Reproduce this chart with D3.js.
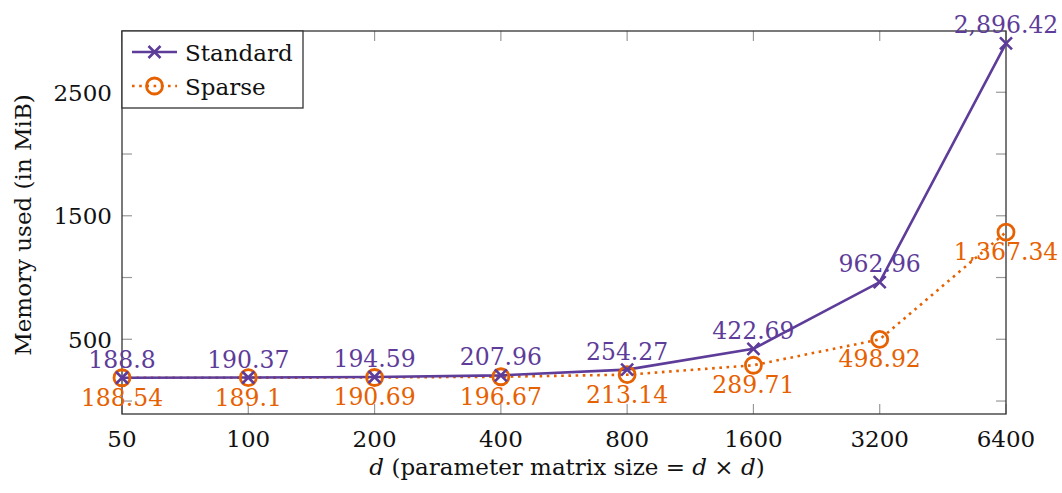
<!DOCTYPE html>
<html>
<head>
<meta charset="utf-8">
<script src="https://cdn.jsdelivr.net/npm/d3@7"></script>
<style>
  body { margin: 0; background: #fff; }
  text { font-family: "DejaVu Serif", serif; }
</style>
</head>
<body>
<script>
const sizes = ["50", "100", "200", "400", "800", "1600", "3200", "6400"];
const standard = [188.8, 190.37, 194.59, 207.96, 254.27, 422.69, 962.96, 2896.42];
const sparse = [188.54, 189.1, 190.69, 196.67, 213.14, 289.71, 498.92, 1367.34];
const yTicks = [0, 500, 1000, 1500, 2000, 2500, 3000];
const yTickLabels = [500, 1500, 2500];

const purple = "#5e3c99";
const orange = "#e66101";

const W = 1062, H = 493;
const margin = { left: 122, right: 56, top: 31, bottom: 79 };
const width = W - margin.left - margin.right;
const height = H - margin.top - margin.bottom;

const svg = d3.select("body").append("svg")
  .attr("width", W)
  .attr("height", H);

const g = svg.append("g").attr("transform", `translate(${margin.left},${margin.top})`);

const x = d3.scalePoint().domain(sizes).range([0, width]).padding(0);
const y = d3.scaleLinear().domain([-105, 2996]).range([height, 0]);

// ticks (inward, both sides)
const tickLen = 10;
const ticks = g.append("g").attr("stroke", "#999").attr("stroke-width", 1.2);
for (const s of sizes) {
  ticks.append("line").attr("x1", x(s)).attr("x2", x(s)).attr("y1", height).attr("y2", height - tickLen);
  ticks.append("line").attr("x1", x(s)).attr("x2", x(s)).attr("y1", 0).attr("y2", tickLen);
}
for (const v of yTicks) {
  if (y(v) < 0 || y(v) > height) continue;
  ticks.append("line").attr("x1", 0).attr("x2", tickLen).attr("y1", y(v)).attr("y2", y(v));
  ticks.append("line").attr("x1", width).attr("x2", width - tickLen).attr("y1", y(v)).attr("y2", y(v));
}

// axis frame
g.append("rect")
  .attr("width", width)
  .attr("height", height)
  .attr("fill", "none")
  .attr("stroke", "#333")
  .attr("stroke-width", 1.3);

// tick labels
g.selectAll(".xlab").data(sizes).join("text")
  .attr("x", d => x(d))
  .attr("y", height + 33)
  .attr("text-anchor", "middle")
  .attr("font-size", 23)
  .attr("fill", "#111")
  .text(d => d);

g.selectAll(".ylab").data(yTickLabels).join("text")
  .attr("x", -10)
  .attr("y", d => y(d) + 8.5)
  .attr("text-anchor", "end")
  .attr("font-size", 23)
  .attr("fill", "#111")
  .text(d => d);

// axis titles
const xt = svg.append("text")
  .attr("x", 567)
  .attr("y", 475)
  .attr("text-anchor", "middle")
  .attr("font-size", 23)
  .attr("fill", "#111");
xt.append("tspan").attr("font-style", "italic").text("d");
xt.append("tspan").text(" (parameter matrix size = ");
xt.append("tspan").attr("font-style", "italic").text("d");
xt.append("tspan").text(" × ");
xt.append("tspan").attr("font-style", "italic").text("d");
xt.append("tspan").text(")");

svg.append("text")
  .attr("transform", "translate(31,225) rotate(-90)")
  .attr("text-anchor", "middle")
  .attr("font-size", 23)
  .attr("fill", "#111")
  .text("Memory used (in MiB)");

// lines
const line = d3.line().x((d, i) => x(sizes[i])).y(d => y(d));

g.append("path")
  .datum(sparse)
  .attr("d", line)
  .attr("fill", "none")
  .attr("stroke", orange)
  .attr("stroke-width", 2.6)
  .attr("stroke-dasharray", "2.6 4.6");

g.append("path")
  .datum(standard)
  .attr("d", line)
  .attr("fill", "none")
  .attr("stroke", purple)
  .attr("stroke-width", 2.6);

function cross(sel, cx, cy) {
  const r = 6;
  sel.append("path")
    .attr("d", `M${cx - r},${cy - r}L${cx + r},${cy + r}M${cx - r},${cy + r}L${cx + r},${cy - r}`)
    .attr("stroke", purple)
    .attr("stroke-width", 2.6)
    .attr("fill", "none");
}
function circle(sel, cx, cy) {
  sel.append("circle")
    .attr("cx", cx).attr("cy", cy).attr("r", 8)
    .attr("fill", "none")
    .attr("stroke", orange)
    .attr("stroke-width", 2.8);
}

sparse.forEach((v, i) => circle(g, x(sizes[i]), y(v)));
standard.forEach((v, i) => cross(g, x(sizes[i]), y(v)));

// point labels
const fmt = d3.format(",");
g.selectAll(".stdlab").data(standard).join("text")
  .attr("x", (d, i) => x(sizes[i]))
  .attr("y", d => y(d) - 10)
  .attr("text-anchor", "middle")
  .attr("font-size", 23.5)
  .attr("fill", purple)
  .text(d => fmt(d));

g.selectAll(".splab").data(sparse).join("text")
  .attr("x", (d, i) => x(sizes[i]))
  .attr("y", d => y(d) + 28)
  .attr("text-anchor", "middle")
  .attr("font-size", 23.5)
  .attr("fill", orange)
  .text(d => fmt(d));

// legend
const lg = g.append("g");
lg.append("rect")
  .attr("width", 181)
  .attr("height", 77)
  .attr("fill", "#fff")
  .attr("stroke", "#333")
  .attr("stroke-width", 1.3);

lg.append("line").attr("x1", 10).attr("x2", 55).attr("y1", 21).attr("y2", 21)
  .attr("stroke", purple).attr("stroke-width", 2.6);
cross(lg, 32.5, 21);
lg.append("text").attr("x", 63).attr("y", 29.5).attr("font-size", 23).attr("fill", "#111").text("Standard");

lg.append("line").attr("x1", 10).attr("x2", 55).attr("y1", 55).attr("y2", 55)
  .attr("stroke", orange).attr("stroke-width", 2.6).attr("stroke-dasharray", "2.6 4.6");
circle(lg, 32.5, 55);
lg.append("text").attr("x", 63).attr("y", 63.5).attr("font-size", 23).attr("fill", "#111").text("Sparse");
</script>
</body>
</html>
